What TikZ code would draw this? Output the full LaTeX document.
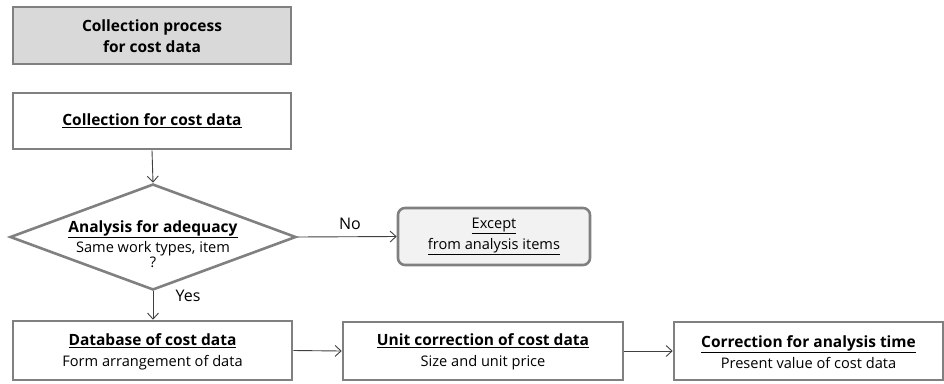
\documentclass[tikz,border=0pt]{standalone}
\usepackage{fontspec}
\setmainfont{Open Sans}
\usetikzlibrary{arrows.meta,shapes.geometric}
\definecolor{bordergray}{HTML}{808080}
\definecolor{topfill}{HTML}{D9D9D9}
\definecolor{exceptfill}{HTML}{F2F2F2}
\definecolor{arrowgray}{HTML}{404040}
\newcommand{\hd}[1]{{\fontsize{15.5}{21}\selectfont\bfseries #1}}
\newcommand{\rg}[1]{{\fontsize{14.6}{21}\selectfont #1}}
\tikzset{
  box/.style={draw=bordergray, line width=2.6pt, fill=white, rectangle, inner sep=0pt},
  boxtext/.style={align=center, font=\fontsize{14.6}{21}\selectfont, text=black, inner sep=0pt},
  conn/.style={draw=arrowgray, line width=0.9pt, -{Straight Barb[length=6pt,width=11pt]}},
  lbl/.style={font=\fontsize{16}{18}\selectfont, text=black, inner sep=0pt}
}
\begin{document}
\begin{tikzpicture}[x=1pt,y=-1pt]
\useasboundingbox (0,0) rectangle (944,383);
% boxes
\node[box, fill=topfill, minimum width=278pt, minimum height=57pt] (top) at (152,35.5) {};
\node[boxtext] (toptext) at (152,36.5) {\hd{Collection process}\\\hd{for cost data}};

\node[box, minimum width=278pt, minimum height=56pt] (coll) at (152,121) {};
\node[boxtext] (colltext) at (coll.center) {\hd{\underline{Collection for cost data}}};

\node[diamond, draw=bordergray, line width=2.6pt, fill=white, minimum width=286pt, minimum height=106pt, inner sep=0pt] (dia) at (153,237) {};
\node[boxtext, font=\fontsize{14.6}{20}\selectfont] (diatext) at (153,244) {\hd{\underline{Analysis for adequacy}}\\\rg{Same work types,\ item}\\[-5pt]\rg{?}};

\node[box, fill=exceptfill, rounded corners=7pt, minimum width=192pt, minimum height=57pt] (exc) at (494,236.5) {};
\node[boxtext] (exctext) at (exc.center) {\rg{\underline{Except}}\\\rg{\underline{from analysis items}}};

\node[box, minimum width=279pt, minimum height=59pt] (db) at (152.5,350.5) {};
\node[boxtext] (dbtext) at (152.5,352) {\hd{\underline{Database of cost data}}\\\rg{Form arrangement of data}};

\node[box, minimum width=280pt, minimum height=58pt] (unit) at (483,351) {};
\node[boxtext] (unittext) at (483,352) {\hd{\underline{Unit correction of cost data}}\\\rg{Size and unit price}};

\node[box, minimum width=269pt, minimum height=58pt] (corr) at (808.5,351) {};
\node[boxtext] (corrtext) at (808.5,352) {\hd{\underline{Correction for analysis time}}\\\rg{Present value of cost data}};

% connectors
\draw[conn] (coll.south) -- (dia.north);
\draw[conn] (dia.east) -- (exc.west);
\draw[conn] (dia.south) -- (dia.south |- db.north);
\draw[conn] (db.east) -- (unit.west);
\draw[conn] (unit.east) -- (corr.west);

% labels
\node[lbl] (no) at (350,224) {No};
\node[lbl] (yes) at (188,296) {Yes};
\end{tikzpicture}
\end{document}
